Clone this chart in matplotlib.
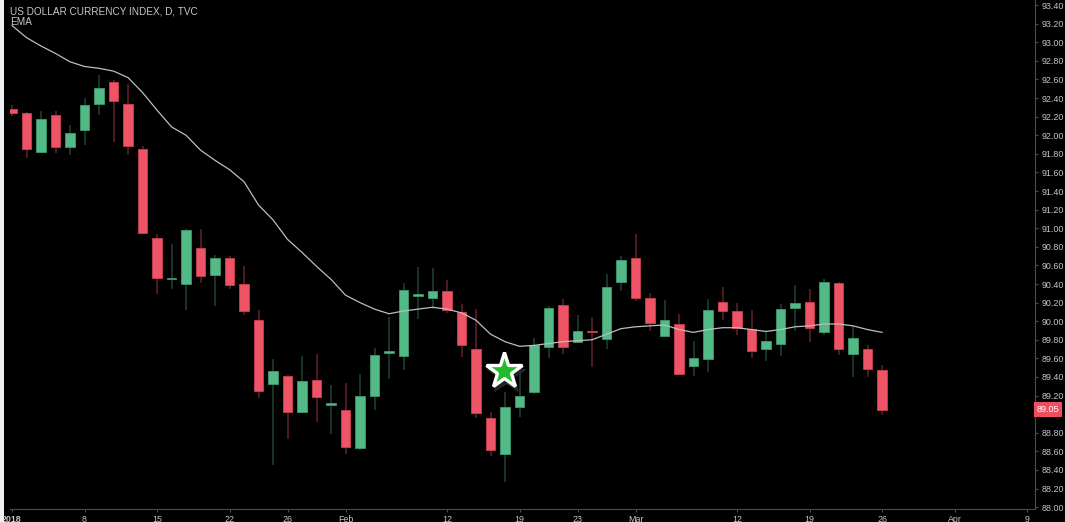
import numpy as np
import matplotlib.pyplot as plt
from matplotlib.patches import Rectangle

# ------------------------------------------------------------
# DATA  (daily bars, DXY, Jan 1 -> Mar 26 2018)
# ------------------------------------------------------------
opens = [92.28, 92.24, 91.82, 92.22, 91.87, 92.06, 92.34, 92.57, 92.34, 91.85,
         90.90, 90.45, 90.40, 90.79, 90.50, 90.68, 90.40, 90.01, 89.32, 89.41,
         89.02, 89.37, 89.10, 89.05, 88.64, 89.20, 89.66, 89.63, 90.27, 90.25,
         90.33, 90.10, 89.70, 88.96, 88.57, 89.08, 89.24, 89.72, 90.17, 89.78,
         89.89, 89.81, 90.42, 90.68, 90.25, 89.84, 89.97, 89.52, 89.59, 90.21,
         90.11, 89.92, 89.70, 89.75, 90.14, 90.21, 89.88, 90.41, 89.65, 89.70,
         89.48]
highs = [92.33, 92.25, 92.26, 92.26, 92.11, 92.40, 92.65, 92.59, 92.55, 91.88,
         90.94, 90.83, 90.99, 90.99, 90.71, 90.70, 90.59, 90.12, 89.59, 89.42,
         89.63, 89.65, 89.31, 89.33, 89.43, 89.71, 90.04, 90.41, 90.58, 90.57,
         90.44, 90.18, 90.13, 89.02, 89.24, 89.46, 89.82, 90.16, 90.24, 90.07,
         90.05, 90.51, 90.70, 90.94, 90.30, 90.23, 90.08, 89.79, 90.24, 90.37,
         90.20, 90.12, 89.88, 90.18, 90.39, 90.35, 90.45, 90.42, 89.96, 89.74,
         89.53]
lows = [92.21, 91.76, 91.81, 91.81, 91.79, 91.89, 92.22, 91.93, 91.79, 90.94,
        90.29, 90.35, 90.12, 90.41, 90.16, 90.35, 90.07, 89.17, 88.45, 88.73,
        89.01, 88.92, 88.79, 88.57, 88.61, 89.04, 89.38, 89.48, 90.02, 90.13,
        90.09, 89.62, 88.96, 88.55, 88.27, 88.97, 89.22, 89.60, 89.65, 89.77,
        89.51, 89.70, 90.32, 90.22, 89.89, 89.83, 89.42, 89.41, 89.45, 90.01,
        89.85, 89.60, 89.57, 89.63, 89.90, 89.78, 89.85, 89.64, 89.40, 89.40,
        88.99]
closes = [92.24, 91.85, 92.17, 91.87, 92.02, 92.33, 92.51, 92.37, 91.88, 90.95,
          90.46, 90.47, 90.98, 90.49, 90.68, 90.39, 90.11, 89.25, 89.46, 89.02,
          89.36, 89.19, 89.12, 88.65, 89.20, 89.64, 89.68, 90.34, 90.29, 90.33,
          90.12, 89.74, 89.01, 88.62, 89.08, 89.20, 89.74, 90.14, 89.72, 89.89,
          89.88, 90.37, 90.66, 90.25, 89.98, 90.01, 89.43, 89.60, 90.12, 90.11,
          89.93, 89.68, 89.79, 90.13, 90.20, 89.93, 90.42, 89.70, 89.82, 89.49,
          89.05]
ema = [93.18, 93.05, 92.96, 92.88, 92.79, 92.74, 92.72, 92.69, 92.62, 92.46,
       92.27, 92.09, 92.00, 91.84, 91.73, 91.63, 91.50, 91.25, 91.09, 90.88,
       90.74, 90.59, 90.45, 90.28, 90.20, 90.13, 90.08, 90.11, 90.13, 90.15,
       90.13, 90.09, 90.01, 89.86, 89.78, 89.73, 89.74, 89.76, 89.78, 89.79,
       89.80, 89.86, 89.92, 89.94, 89.95, 89.96, 89.91, 89.88, 89.91, 89.93,
       89.93, 89.91, 89.89, 89.91, 89.94, 89.95, 89.97, 89.97, 89.95, 89.91,
       89.88]

# date labels on the time axis (bar index -> label)
date_ticks = [0, 5, 10, 15, 19, 23, 30, 35, 39, 43, 50, 55, 60, 65, 70]
date_labels = ["2018", "8", "15", "22", "26", "Feb", "12", "19", "23", "Mar",
               "12", "19", "26", "Apr", "9"]

price_ticks = [round(88.0 + 0.2 * k, 2) for k in range(28)]

star_idx = 33.9
star_price = 89.46

# ------------------------------------------------------------
# STYLE
# ------------------------------------------------------------
BG = "#000000"
UP = "#53b987"
DOWN = "#ef5466"
UP_WICK = "#1f4334"
DOWN_WICK = "#62222b"
TXT = "#c4c7cf"
AXIS = "#4c4c4c"

fig = plt.figure(figsize=(10.65, 5.22), dpi=100, facecolor=BG)
ax = fig.add_axes([10 / 1065, 13 / 522, 1025 / 1065, 509 / 522])
ax.set_facecolor(BG)

# light strip on the far left edge
fig.patches.append(Rectangle((0, 0), 4 / 1065, 1, transform=fig.transFigure,
                             facecolor="#eef0f3", edgecolor="none", zorder=0))

x = np.arange(len(opens))
o = np.array(opens)
h = np.array(highs)
l = np.array(lows)
c = np.array(closes)
up = c >= o

wick_cols = [UP_WICK if u else DOWN_WICK for u in up]
ax.vlines(x, l, h, colors=wick_cols, linewidth=1.1, zorder=2)

body_bottom = np.minimum(o, c)
body_h = np.maximum(np.abs(c - o), 0.02)
ax.bar(x, body_h, bottom=body_bottom, width=0.68,
       color=[UP if u else DOWN for u in up],
       edgecolor=["#3f9a6e" if u else "#c94050" for u in up],
       linewidth=0.6, zorder=3)

ax.plot(x, ema, color="#bdbdbd", linewidth=0.9, zorder=4, solid_joinstyle="round")

# star marker with shadow
ax.plot(star_idx + 0.15, star_price - 0.04, marker="*", markersize=29,
        color="#2a2a2a", markeredgecolor="#2a2a2a", alpha=0.8, zorder=5)
ax.plot(star_idx, star_price, marker="*", markersize=27,
        markerfacecolor="#22bb2b", markeredgecolor="white",
        markeredgewidth=2.4, zorder=6)

# axes limits
ax.set_xlim(-0.14, 70.55)
ax.set_ylim(87.98, 93.455)

for side in ["top", "left"]:
    ax.spines[side].set_visible(False)
ax.spines["right"].set_color(AXIS)
ax.spines["bottom"].set_color(AXIS)

ax.yaxis.tick_right()
ax.set_yticks(price_ticks)
# the 89.00 label sits under the last-price tag
ax.set_yticklabels(["" if abs(p - 89.0) < 1e-6 else f"{p:.2f}" for p in price_ticks])
ax.set_xticks(date_ticks)
ax.set_xticklabels(date_labels)
ax.tick_params(axis="y", colors=AXIS, labelcolor=TXT, labelsize=6.4,
               length=2.5, pad=2)
ax.tick_params(axis="x", colors=AXIS, labelcolor=TXT, labelsize=6.4,
               length=2.5, pad=1.5)
for lab in ax.get_xticklabels() + ax.get_yticklabels():
    lab.set_family("Liberation Sans")
ax.get_xticklabels()[0].set_fontweight("bold")

# last price tag
ax.text(1.0015, closes[-1], f"{closes[-1]:.2f}", transform=ax.get_yaxis_transform(),
        ha="left", va="center", fontsize=6.6, color="white",
        family="Liberation Sans", zorder=10, clip_on=False,
        bbox=dict(boxstyle="square,pad=0.32", facecolor="#f04d5e", edgecolor="none"))

# header
fig.text(10 / 1065, 1 - 11 / 522, "US DOLLAR CURRENCY INDEX, D, TVC",
         color=TXT, fontsize=7.2, family="Liberation Sans", va="center")
fig.text(10 / 1065, 1 - 22 / 522, "EMA",
         color=TXT, fontsize=7.2, family="Liberation Sans", va="center")

fig.savefig("out.png", dpi=100, facecolor=BG)
